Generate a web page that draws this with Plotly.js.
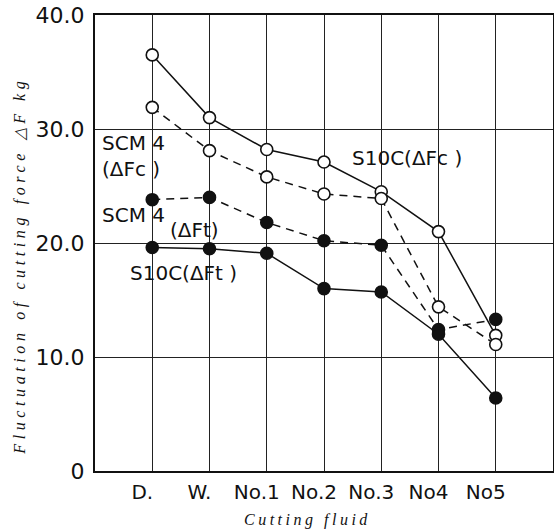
<!DOCTYPE html>
<html>
<head>
<meta charset="utf-8">
<script src="https://cdn.plot.ly/plotly-3.0.1.min.js"></script>
<style>
html,body{margin:0;padding:0;background:#fff;}
#chart{width:554px;height:531px;}
</style>
</head>
<body>
<div id="chart"></div>
<script>
// Cutting fluids (categories) and tick labels
const fluids = ["D.", "W.", "No.1", "No.2", "No.3", "No4", "No5"];
const fluidLabels = ["D.", "W.", "No.1", "No.2", "No.3", "No4", "No5"];

// Fluctuation of cutting force ΔF (kg)
const s10cFc  = [36.5, 31.0, 28.2, 27.1, 24.5, 21.0, 11.9];
const scm4Fc  = [31.9, 28.1, 25.8, 24.3, 23.9, 14.4, 11.1];
const scm4Ft  = [23.8, 24.0, 21.8, 20.2, 19.8, 12.4, 13.3];
const s10cFt  = [19.6, 19.5, 19.1, 16.0, 15.7, 12.0, 6.4];

const yTickVals = [0, 10, 20, 30, 40];
const yTickText = ["0", "10.0", "20.0", "30.0", "40.0"];

const xTitle = "Cutting fluid";
const yTitle = "Fluctuation of cutting force △F kg";

const idx = fluids.map((_, i) => i);

function series(y, dashed, filled) {
  return {
    x: idx, y: y, type: "scatter", mode: "lines+markers",
    line: {color: "#111", width: 1.5, dash: dashed ? "8px,6px" : "solid"},
    marker: {symbol: "circle", size: 12, color: filled ? "#111" : "#fff",
             line: {color: "#111", width: 1.6}},
    hoverinfo: "skip", showlegend: false, cliponaxis: false
  };
}

const data = [
  series(s10cFc, false, false),
  series(scm4Fc, true, false),
  series(scm4Ft, true, true),
  series(s10cFt, false, true)
];

const labelFont = {family: "DejaVu Sans", size: 20, color: "#111"};
function ann(text, x, y, extra) {
  return Object.assign({text: text, x: x, y: y, xref: "x", yref: "y",
    showarrow: false, xanchor: "left", yanchor: "middle", font: labelFont}, extra || {});
}
const titleFont = {family: "Liberation Serif", size: 16, color: "#111"};

const layout = {
  width: 554, height: 531,
  margin: {l: 95, r: 1, t: 15, b: 60},
  paper_bgcolor: "#fff", plot_bgcolor: "#fff",
  font: {family: "DejaVu Sans", color: "#111"},
  xaxis: {
    range: [-1, 7], tickvals: idx, ticktext: fluidLabels,
    showgrid: true, gridcolor: "#222", gridwidth: 1,
    zeroline: false, showline: true, linecolor: "#111", linewidth: 2, mirror: true,
    ticks: "", tickfont: {family: "DejaVu Sans", size: 20, color: "#111"},
    ticklabelshift: -10, ticklabelstandoff: 2
  },
  yaxis: {
    range: [0, 40], tickvals: yTickVals, ticktext: yTickText,
    showgrid: true, gridcolor: "#222", gridwidth: 1,
    zeroline: false, showline: true, linecolor: "#111", linewidth: 2, mirror: true,
    ticks: "", tickfont: {family: "DejaVu Sans", size: 22, color: "#111"},
    ticklabelstandoff: 4
  },
  annotations: [
    ann("SCM 4<br>(ΔFc )", -0.92, 27.6, {align: "left"}),
    ann("SCM 4", -0.92, 22.5),
    ann("(ΔFt)", 0.27, 21.1),
    ann("S10C(ΔFt )", -0.42, 17.4),
    ann("S10C(ΔFc )", 3.46, 27.5),
    {text: '<i><span style="letter-spacing:4.6px">' + yTitle + '</span></i>',
     xref: "paper", yref: "paper", x: -0.164, y: 0.45, textangle: -90,
     showarrow: false, xanchor: "center", yanchor: "middle", font: titleFont},
    {text: '<i><span style="letter-spacing:3.5px">' + xTitle + '</span></i>',
     xref: "paper", yref: "paper", x: 0.463, y: -0.107,
     showarrow: false, xanchor: "center", yanchor: "middle", font: titleFont}
  ]
};

Plotly.newPlot("chart", data, layout, {displayModeBar: false, staticPlot: true});
</script>
</body>
</html>
